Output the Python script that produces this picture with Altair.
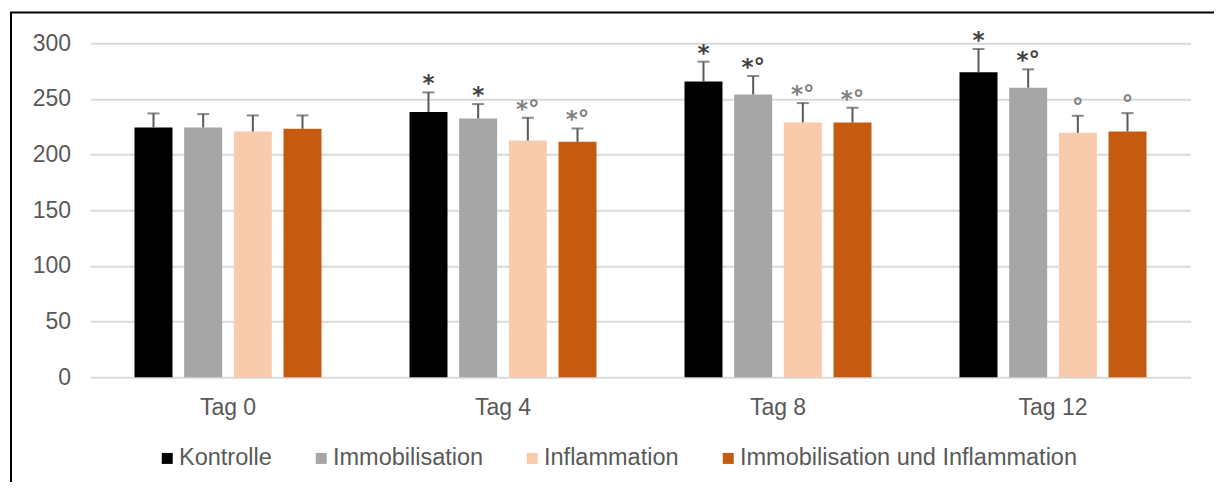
import altair as alt
import pandas as pd

days = ["Tag 0", "Tag 4", "Tag 8", "Tag 12"]
groups = ["Kontrolle", "Immobilisation", "Inflammation", "Immobilisation und Inflammation"]
colors = ["#000000", "#a6a6a6", "#f8cbad", "#c55a11"]

# mean values per group (order: Tag 0, Tag 4, Tag 8, Tag 12)
kontrolle = [224.4, 238.2, 265.8, 273.9]
immobilisation = [224.4, 232.5, 254.1, 260.1]
inflammation = [220.8, 212.7, 228.9, 219.6]
immo_infl = [223.2, 211.5, 228.9, 220.8]

# upper error (standard deviation)
sd_kontrolle = [12.6, 17.7, 17.7, 21.0]
sd_immobilisation = [12.0, 12.9, 16.5, 16.5]
sd_inflammation = [14.4, 20.4, 17.4, 15.3]
sd_immo_infl = [12.0, 12.0, 13.2, 16.5]

# significance marks
sig_kontrolle = ["", "*", "*", "*"]
sig_immobilisation = ["", "*", "*°", "*°"]
sig_inflammation = ["", "*°", "*°", "°"]
sig_immo_infl = ["", "*°", "*°", "°"]

means = [kontrolle, immobilisation, inflammation, immo_infl]
sds = [sd_kontrolle, sd_immobilisation, sd_inflammation, sd_immo_infl]
sigs = [sig_kontrolle, sig_immobilisation, sig_inflammation, sig_immo_infl]

rows = []
for gi, g in enumerate(groups):
    for di, d in enumerate(days):
        m = means[gi][di]
        s = sds[gi][di]
        rows.append({"day": d, "group": g, "value": m, "err": m + s,
                     "sig": sigs[gi][di]})
df = pd.DataFrame(rows)

x_enc = alt.X("day:N", sort=days, title=None,
              scale=alt.Scale(paddingInner=0.32, paddingOuter=0.16),
              axis=alt.Axis(labelAngle=0, labelFontSize=23, labelColor="#595959",
                            labelPadding=19, ticks=False, tickSize=0, domain=False))
xo_enc = alt.XOffset("group:N", sort=groups,
                     scale=alt.Scale(paddingInner=0.235, paddingOuter=0))

base = alt.Chart(df)

bars = base.mark_bar().encode(
    x=x_enc,
    xOffset=xo_enc,
    y=alt.Y("value:Q", title=None,
            scale=alt.Scale(domain=[0, 300], nice=False),
            axis=alt.Axis(values=[0, 50, 100, 150, 200, 250, 300], labelFontSize=23,
                          labelColor="#595959", labelPadding=20, ticks=False,
                          domain=False, gridColor="#d9d9d9", gridWidth=2)),
    color=alt.Color("group:N", sort=groups,
                    scale=alt.Scale(domain=groups, range=colors),
                    legend=alt.Legend(title=None, orient="none", legendX=65, legendY=403,
                                      direction="horizontal", columns=4,
                                      symbolType="square", symbolSize=121,
                                      symbolStrokeWidth=0, labelFontSize=23.5,
                                      labelColor="#595959", labelOffset=0,
                                      columnPadding=37, labelLimit=600)),
)

rules = base.mark_rule(color="#595959", strokeWidth=2).encode(
    x=x_enc, xOffset=xo_enc, y="value:Q", y2="err:Q"
)

caps = base.mark_tick(color="#595959", thickness=2, size=12).encode(
    x=x_enc, xOffset=xo_enc, y="err:Q"
)

labels = base.mark_text(baseline="alphabetic", dy=-1, font="DejaVu Sans",
                        fontSize=23, fontWeight="bold").encode(
    x=x_enc, xOffset=xo_enc, y="err:Q", text="sig:N",
    color=alt.condition(
        alt.FieldOneOfPredicate(field="group", oneOf=groups[:2]),
        alt.value("#404040"), alt.value("#808080")),
)

frame = alt.Chart(pd.DataFrame({"a": [0]})).mark_rect(
    fill=None, stroke="#000000", strokeWidth=2, clip=False
).encode(
    x=alt.value(-79.5), x2=alt.value(1128.5), y=alt.value(-30.8), y2=alt.value(480)
)

chart = alt.layer(bars, rules, caps, labels, frame).properties(
    width=1100, height=334,
    autosize=alt.AutoSizeParams(type="none"),
    padding={"left": 82.5, "top": 35.3, "right": 23.5, "bottom": 104.7},
).configure(
    font="Liberation Sans",
).configure_view(stroke=None)

chart.save("out.html", embed_options={"renderer": "svg", "actions": False})
